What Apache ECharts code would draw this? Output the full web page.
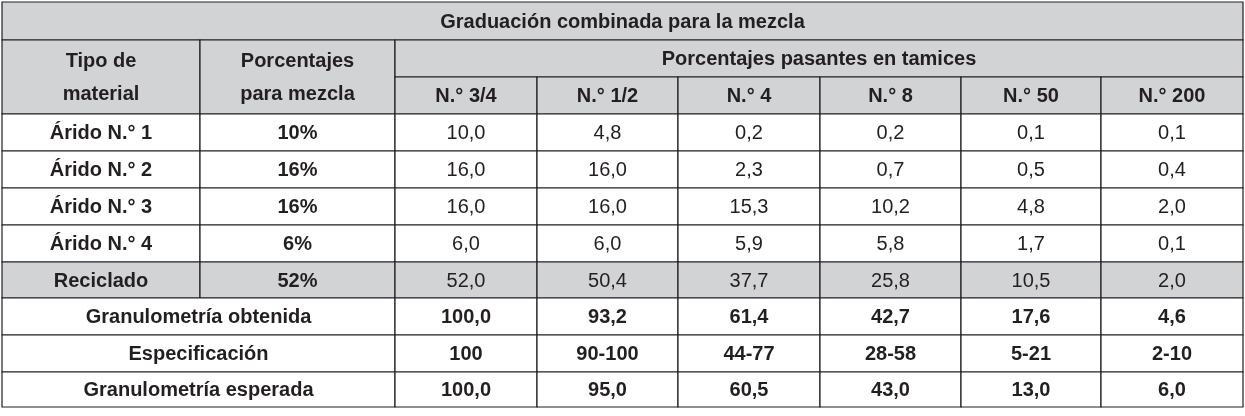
<!DOCTYPE html><html><head><meta charset="utf-8"><script src="https://cdn.jsdelivr.net/npm/echarts@6/dist/echarts.min.js"></script>
<style>html,body{margin:0;padding:0;background:#fff}#c{width:1245px;height:416px}</style></head><body><div id="c"></div><script>
const title = 'Graduación combinada para la mezcla';
const sieves = ['N.° 3/4','N.° 1/2','N.° 4','N.° 8','N.° 50','N.° 200'];
const materials = ['Árido N.° 1','Árido N.° 2','Árido N.° 3','Árido N.° 4','Reciclado'];
const mixPct = ['10%','16%','16%','6%','52%'];
const passing = [
 ['10,0','4,8','0,2','0,2','0,1','0,1'],
 ['16,0','16,0','2,3','0,7','0,5','0,4'],
 ['16,0','16,0','15,3','10,2','4,8','2,0'],
 ['6,0','6,0','5,9','5,8','1,7','0,1'],
 ['52,0','50,4','37,7','25,8','10,5','2,0']
];
const summaryLabels = ['Granulometría obtenida','Especificación','Granulometría esperada'];
const summaryValues = [
 ['100,0','93,2','61,4','42,7','17,6','4,6'],
 ['100','90-100','44-77','28-58','5-21','2-10'],
 ['100,0','95,0','60,5','43,0','13,0','6,0']
];
const colX = [2,200,395,537,678,820,961,1101,1243];
const rowY = [2,40,77,114,151,188,225,262,298,335,372,407];
const gray = '#d1d3d4', ink = '#231f20', F = '"Liberation Sans", Arial, sans-serif', FS = '20px ';
const els = [];
function cell(c0,c1,r0,r1,text,bold,fill){
  const x=colX[c0],y=rowY[r0],w=colX[c1]-x,h=rowY[r1]-y;
  els.push({type:'rect',shape:{x,y,width:w,height:h},style:{fill:fill||'#fff',stroke:ink,lineWidth:1.2}});
  els.push({type:'text',x:x+w/2,y:y+h/2+1,style:{text,fill:ink,font:(bold?'bold ':'')+FS+F,align:'center',verticalAlign:'middle'}});
}
cell(0,8,0,1,title,true,gray);
els.push({type:'rect',shape:{x:colX[0],y:rowY[1],width:colX[1]-colX[0],height:rowY[3]-rowY[1]},style:{fill:gray,stroke:ink,lineWidth:1.2}});
els.push({type:'text',x:(colX[0]+colX[1])/2,y:(rowY[1]+rowY[3])/2+1,style:{text:'Tipo de\nmaterial',fill:ink,font:'bold '+FS+F,align:'center',verticalAlign:'middle',lineHeight:33}});
els.push({type:'rect',shape:{x:colX[1],y:rowY[1],width:colX[2]-colX[1],height:rowY[3]-rowY[1]},style:{fill:gray,stroke:ink,lineWidth:1.2}});
els.push({type:'text',x:(colX[1]+colX[2])/2,y:(rowY[1]+rowY[3])/2+1,style:{text:'Porcentajes\npara mezcla',fill:ink,font:'bold '+FS+F,align:'center',verticalAlign:'middle',lineHeight:33}});
cell(2,8,1,2,'Porcentajes pasantes en tamices',true,gray);
sieves.forEach((s,i)=>cell(2+i,3+i,2,3,s,true,gray));
materials.forEach((m,r)=>{
  const f = r===4?gray:'#fff';
  cell(0,1,3+r,4+r,m,true,f);
  cell(1,2,3+r,4+r,mixPct[r],true,f);
  passing[r].forEach((v,i)=>cell(2+i,3+i,3+r,4+r,v,false,f));
});
summaryLabels.forEach((l,r)=>{
  cell(0,2,8+r,9+r,l,true);
  summaryValues[r].forEach((v,i)=>cell(2+i,3+i,8+r,9+r,v,true));
});
const chart = echarts.init(document.getElementById('c'));
chart.setOption({animation:false,graphic:{elements:els}});
</script></body></html>
